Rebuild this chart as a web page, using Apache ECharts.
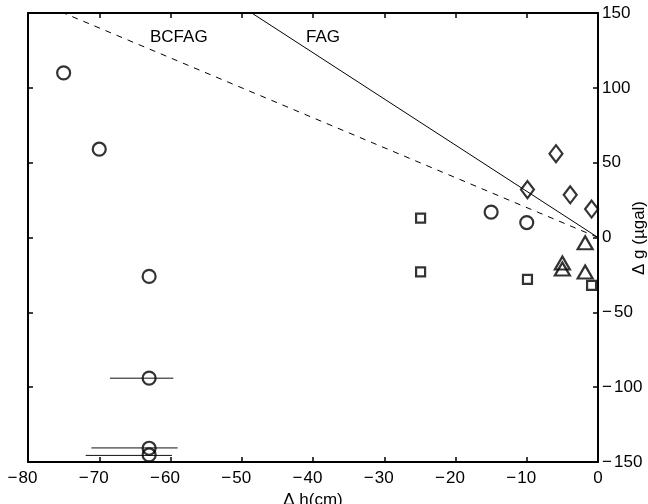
<!DOCTYPE html>
<html>
<head>
<meta charset="utf-8">
<script src="https://cdn.jsdelivr.net/npm/echarts@6/dist/echarts.min.js"></script>
<style>
html,body{margin:0;padding:0;background:#fff;}
#c{width:648px;height:504px;}
</style>
</head>
<body>
<div id="c"></div>
<script>
// ---- data ----
const xTicks = [-80, -70, -60, -50, -40, -30, -20, -10, 0];
const yTicks = [-150, -100, -50, 0, 50, 100, 150];
const circles = [[-75, 110], [-70, 59], [-63, -26], [-63, -94], [-63, -140.8], [-63, -145.3], [-15, 17], [-10, 10]];
const diamonds = [[-5.9, 56], [-9.9, 32], [-3.9, 28.5], [-0.9, 19]];
const triangles = [[-1.8, -3.5], [-5, -17], [-5, -21], [-1.8, -23]];
const squares = [[-24.9, 13], [-24.9, -23], [-9.9, -28], [-0.9, -32]];
// error bars: [y, xLow, xHigh]
const errorBars = [[-94, -68.5, -59.6], [-140.6, -71.1, -59.0], [-145.6, -71.9, -59.8]];
const fagLine = [[-48.6, 150], [0, 0]];
const bcfagLine = [[-80, 160], [0, 0]];

const FONT = 'Liberation Sans, Arial, Helvetica, sans-serif';
const FS = 17;

function fmtX(v) {
  if (v < 0) return '{m|\u2212}{d|' + Math.abs(v) + '}{p| }';
  return '{d|' + v + '}';
}
function fmtY(v) {
  if (v < 0) return '{m|\u2212}{d|' + Math.abs(v) + '}';
  return '{d|' + v + '}';
}
const rich = {
  m: {fontFamily: FONT, fontSize: FS, color: '#000', width: 12},
  d: {fontFamily: FONT, fontSize: FS, color: '#000'},
  p: {fontFamily: FONT, fontSize: FS, color: '#000', width: 12}
};

const chart = echarts.init(document.getElementById('c'), null, {renderer: 'canvas'});
const axisLineStyle = {color: '#000', width: 2};
const markerStyle = {color: 'rgba(0,0,0,0)', borderColor: '#000', borderWidth: 2.2};

chart.setOption({
  animation: false,
  backgroundColor: '#fff',
  grid: {left: 28, right: 50, top: 13, bottom: 42, containLabel: false, outerBoundsMode: 'none'},
  xAxis: [
    {
      type: 'value', position: 'bottom', min: -80, max: 0, interval: 10,
      axisLine: {show: true, onZero: false, lineStyle: axisLineStyle},
      axisTick: {show: true, inside: true, length: 5, lineStyle: {color: '#000', width: 1.5}},
      splitLine: {show: false},
      axisLabel: {show: true, margin: 8, formatter: fmtX, rich: rich, fontFamily: FONT, fontSize: FS, color: '#000'},
      name: '\u0394 h(cm)', nameLocation: 'middle', nameGap: 25,
      nameTextStyle: {fontFamily: FONT, fontSize: FS, color: '#000'}
    },
    {
      type: 'value', position: 'top', min: -80, max: 0, interval: 10,
      axisLine: {show: true, onZero: false, lineStyle: axisLineStyle},
      axisTick: {show: true, inside: true, length: 5, lineStyle: {color: '#000', width: 1.5}},
      splitLine: {show: false},
      axisLabel: {show: false}
    }
  ],
  yAxis: [
    {
      type: 'value', position: 'right', min: -150, max: 150, interval: 50,
      axisLine: {show: true, onZero: false, lineStyle: axisLineStyle},
      axisTick: {show: true, inside: true, length: 5, lineStyle: {color: '#000', width: 1.5}},
      splitLine: {show: false},
      axisLabel: {show: true, margin: 4, align: 'left', formatter: fmtY, rich: rich, fontFamily: FONT, fontSize: FS, color: '#000'}
    },
    {
      type: 'value', position: 'left', min: -150, max: 150, interval: 50,
      axisLine: {show: true, onZero: false, lineStyle: axisLineStyle},
      axisTick: {show: true, inside: true, length: 5, lineStyle: {color: '#000', width: 1.5}},
      splitLine: {show: false},
      axisLabel: {show: false}
    }
  ],
  graphic: [
    {type: 'text', left: 150, top: 29, style: {text: 'BCFAG', font: FS + 'px ' + FONT, fill: '#000'}},
    {type: 'text', left: 306, top: 29, style: {text: 'FAG', font: FS + 'px ' + FONT, fill: '#000'}},
    {type: 'text', x: 639, y: 238, rotation: Math.PI / 2,
     style: {text: '\u0394 g (\u00b5gal)', font: FS + 'px ' + FONT, fill: '#000', align: 'center', verticalAlign: 'middle'}}
  ],
  series: [
    {
      type: 'line', data: bcfagLine, symbol: 'none', clip: true,
      lineStyle: {color: '#000', width: 1, type: [6, 6]}
    },
    {
      type: 'line', data: fagLine, symbol: 'none', clip: true,
      lineStyle: {color: '#000', width: 1}
    },
    {
      type: 'custom', data: errorBars, clip: true,
      renderItem: function (params, api) {
        const p1 = api.coord([api.value(1), api.value(0)]);
        const p2 = api.coord([api.value(2), api.value(0)]);
        return {type: 'line', shape: {x1: p1[0], y1: p1[1], x2: p2[0], y2: p2[1]}, style: {stroke: '#111', lineWidth: 1}};
      },
      encode: {x: [1, 2], y: 0}
    },
    {type: 'scatter', data: circles, symbol: 'circle', symbolSize: 13, itemStyle: markerStyle},
    {type: 'scatter', data: diamonds, symbol: 'diamond', symbolSize: [13, 17], itemStyle: markerStyle},
    {type: 'scatter', data: triangles, symbol: 'triangle', symbolSize: [15, 13], itemStyle: markerStyle},
    {type: 'scatter', data: squares, symbol: 'rect', symbolSize: 9, itemStyle: markerStyle}
  ]
});
</script>
</body>
</html>
